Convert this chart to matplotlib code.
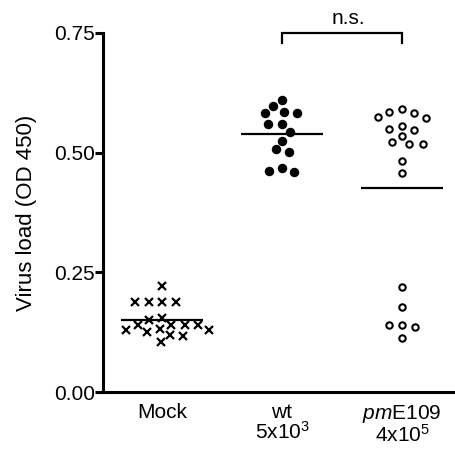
import numpy as np
import matplotlib
matplotlib.use("Agg")
import matplotlib.pyplot as plt

plt.rcParams['font.family'] = ['Liberation Sans', 'DejaVu Sans']
plt.rcParams['mathtext.fontset'] = 'custom'
plt.rcParams['mathtext.rm'] = 'Liberation Sans'
plt.rcParams['mathtext.it'] = 'Liberation Sans:italic'
plt.rcParams['mathtext.default'] = 'regular'

# ---- data ----
categories = ["Mock", "wt", "pmE109"]
tick_labels = ["Mock", "wt\n5x10$^3$", "$\\it{pm}$E109\n4x10$^5$"]
y_ticks = [0.00, 0.25, 0.50, 0.75]
y_label = "Virus load (OD 450)"
mock = [0.221, 0.187, 0.187, 0.187, 0.187, 0.155, 0.150, 0.141, 0.140, 0.140,
        0.140, 0.131, 0.130, 0.130, 0.126, 0.119, 0.117, 0.105]
wt = [0.611, 0.597, 0.586, 0.582, 0.582, 0.559, 0.559, 0.544, 0.525, 0.508,
      0.502, 0.467, 0.462, 0.459]
pme109 = [0.591, 0.586, 0.582, 0.575, 0.573, 0.556, 0.549, 0.547, 0.535, 0.523,
          0.519, 0.519, 0.483, 0.457, 0.220, 0.178, 0.141, 0.139, 0.136, 0.112]
sig_label = "n.s."

groups = [mock, wt, pme109]

W, H = 455, 449
fig = plt.figure(figsize=(W / 100, H / 100), dpi=100)
ax = fig.add_axes([103 / W, 57 / H, 352 / W, 359 / H])
ax.set_xlim(-0.492, 2.442)
ax.set_ylim(0, 0.75)

lw = 2.2
for s in ['top', 'right']:
    ax.spines[s].set_visible(False)
for s in ['left', 'bottom']:
    ax.spines[s].set_linewidth(lw)

ax.set_yticks(y_ticks)
ax.set_yticklabels([f"{v:.2f}" for v in y_ticks])
ax.tick_params(axis='y', length=5.5, width=lw, labelsize=15, pad=0.5)
ax.set_xticks(range(len(categories)))
ax.set_xticklabels(tick_labels)
ax.tick_params(axis='x', length=0, labelsize=15, pad=8)
for t in ax.get_xticklabels():
    t.set_linespacing(0.95)
ax.set_ylabel(y_label, fontsize=16, labelpad=12)

# swarm-like layout computed from the values
px_x = ax.bbox.width / (ax.get_xlim()[1] - ax.get_xlim()[0])
px_y = ax.bbox.height / (ax.get_ylim()[1] - ax.get_ylim()[0])


def swarm(values, sx=13.5, sy=9.0):
    ys = np.asarray(values) * px_y
    order = np.argsort(-np.asarray(values), kind='stable')
    placed = []
    xs = np.zeros(len(values))

    def ok(c, y):
        return all(((c - px) / sx) ** 2 + ((y - py) / sy) ** 2 >= 1 - 1e-6
                   for px, py in placed)

    for i in order:
        y = ys[i]
        cands = [0.0]
        for (px, py) in placed:
            dy = abs(py - y)
            if dy < sy:
                dx = sx * np.sqrt(1 - (dy / sy) ** 2)
                cands += [px - dx, px + dx]
        cands = sorted(cands, key=lambda c: (abs(c), c))
        for c in cands:
            if ok(c, y):
                xs[i] = c
                break
        placed.append((xs[i], y))
    return xs / px_x


styles = [
    dict(marker='x', color='black', markersize=5.8, markeredgewidth=1.6, linestyle='none'),
    dict(marker='o', color='black', markersize=5.8, linestyle='none'),
    dict(marker='o', markerfacecolor='white', markeredgecolor='black', markersize=4.6,
         markeredgewidth=1.5, linestyle='none'),
]

for i, (vals, st) in enumerate(zip(groups, styles)):
    offs = swarm(vals)
    ax.plot(i + offs, vals, clip_on=False, zorder=3, **st)
    ax.hlines(np.mean(vals), i - 0.34, i + 0.34, color='black', linewidth=1.6, zorder=4)

# significance bracket between wt and pmE109
yb, yt = 0.730, 0.751
ax.plot([1, 1, 2, 2], [yb, yt, yt, yb], color='black', linewidth=1.6,
        clip_on=False, solid_joinstyle='miter')
ax.text(1.55, 0.781, sig_label, ha='center', va='center', fontsize=15)

fig.savefig("out.png", dpi=100)
